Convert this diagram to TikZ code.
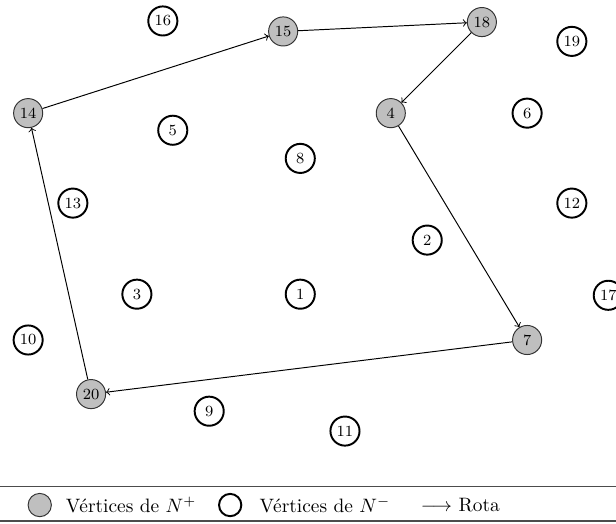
\documentclass[tikz,border=0pt]{standalone}
\usepackage{fontspec}
\begin{document}
\begin{tikzpicture}[
		p/.style = {circle, draw=black!80,	fill=black!25,	line width=0.5pt, minimum size=15pt, inner sep=0pt, font=\footnotesize},
		m/.style = {circle, draw=black,		fill=white,		line width=1pt, minimum size=15pt, inner sep=0pt, font=\footnotesize},
		lp/.style = {p, minimum size=12pt},
		lm/.style = {m, minimum size=11.5pt},
		r/.style = {->, line width=0.5pt}
		]
		\useasboundingbox (0, 0) rectangle (11.16, 9.48);
		
		%Nodes
		\node[m]	(v16)	at	(2.95, 9.10)	{16};
		\node[p]	(v15)	at	(5.13, 8.91)	{15};
		\node[p]	(v18)	at	(8.73, 9.08)	{18};
		\node[m]	(v19)	at	(10.36, 8.73)	{19};
		\node[p]	(v14)	at	(0.51, 7.43)	{14};
		\node[m]	(v5)	at	(3.13, 7.12)	{5};
		\node[p]	(v4)	at	(7.08, 7.43)	{4};
		\node[m]	(v6)	at	(9.55, 7.43)	{6};
		\node[m]	(v8)	at	(5.44, 6.61)	{8};
		\node[m]	(v13)	at	(1.32, 5.80)	{13};
		\node[m]	(v12)	at	(10.36, 5.80)	{12};
		\node[m]	(v2)	at	(7.74, 5.13)	{2};
		\node[m]	(v3)	at	(2.48, 4.15)	{3};
		\node[m]	(v1)	at	(5.44, 4.15)	{1};
		\node[m]	(v17)	at	(11.02, 4.13)	{17};
		\node[m]	(v10)	at	(0.51, 3.32)	{10};
		\node[p]	(v7)	at	(9.55, 3.32)	{7};
		\node[p]	(v20)	at	(1.65, 2.34)	{20};
		\node[m]	(v9)	at	(3.79, 2.03)	{9};
		\node[m]	(v11)	at	(6.25, 1.67)	{11};
		
		%Lines
		\draw[r]	(v14)	to	(v15);
		\draw[r]	(v15)	to	(v18);
		\draw[r]	(v18)	to	(v4);
		\draw[r]	(v4)	to	(v7);
		\draw[r]	(v7)	to	(v20);
		\draw[r]	(v20)	to	(v14);
		
		%Legend
		\draw[line width=0.6pt, black!70]	(0, 0.67) -- (11.16, 0.67);
		\draw[line width=0.6pt, black!70]	(0, 0.04) -- (11.16, 0.04);
		\node[lp]	(kp)	at	(0.72, 0.33)	{};
		\node[anchor=west]	(tp)	at	(1.07, 0.33)	{Vértices de $N^{+}$};
		\node[lm]	(km)	at	(4.17, 0.33)	{};
		\node[anchor=west]	(tm)	at	(4.58, 0.33)	{Vértices de $N^{-}$};
		\node[anchor=west]	(tr)	at	(7.50, 0.33)	{$\longrightarrow$ Rota};
	\end{tikzpicture}
\end{document}
